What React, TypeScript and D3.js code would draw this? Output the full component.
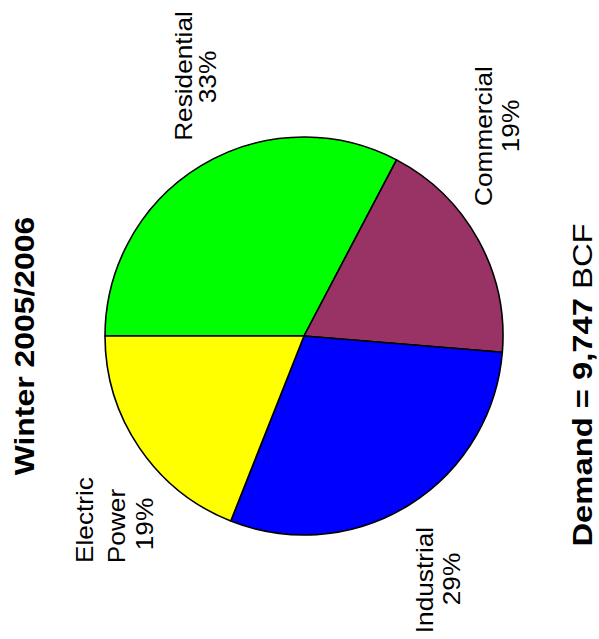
import React from "react";
import * as d3 from "d3";

const categories = ["Residential", "Commercial", "Industrial", "Electric Power"];
const shares = [32.7, 18.6, 29.7, 19.0];
const pctLabels = ["33%", "19%", "29%", "19%"];
const colors = ["#00FF00", "#993366", "#0000FF", "#FFFF00"];
const title = "Winter 2005/2006";
const demandLabel = "Demand = 9,747";
const demandUnit = "BCF";

// label layout (screen coords, rotated text): per-line baseline x and center y
const labelLayout: Record<string, { x: number; y: number }[]> = {
  Residential: [
    { x: 192, y: 76 },
    { x: 216, y: 77 },
  ],
  Commercial: [
    { x: 492, y: 136 },
    { x: 519, y: 126 },
  ],
  Industrial: [
    { x: 433, y: 580 },
    { x: 460, y: 579 },
  ],
  "Electric Power": [
    { x: 93, y: 520 },
    { x: 125, y: 526 },
    { x: 153, y: 524 },
  ],
};

const W = 599;
const H = 639;
const cx = 304;
const cy = 336;
const R = 199;
const FONT = "Liberation Sans, Arial, sans-serif";

function RotText({ x, y, text, size, weight, stretch }: { x: number; y: number; text: string; size: number; weight?: string; stretch: number }) {
  return (
    <text
      transform={`translate(${x},${y}) rotate(-90) scale(${stretch},1)`}
      textAnchor="middle"
      fontFamily={FONT}
      fontSize={size}
      fontWeight={weight || "normal"}
      fill="#000"
    >
      {text}
    </text>
  );
}

export default function App() {
  const pie = d3
    .pie<number>()
    .sort(null)
    .value((d) => d)
    .startAngle(-Math.PI / 2)
    .endAngle((3 * Math.PI) / 2);
  const arcs = pie(shares);
  const arc = d3.arc<d3.PieArcDatum<number>>().innerRadius(0).outerRadius(R);

  return (
    <svg
      width={W}
      height={H}
      style={{ position: "absolute", left: 0, top: 0, background: "#fff" }}
    >
      <rect width={W} height={H} fill="#fff" />
      <g transform={`translate(${cx},${cy})`}>
        {arcs.map((a, i) => (
          <path key={i} d={arc(a) || ""} fill={colors[i]} stroke="#000" strokeWidth={1.6} strokeLinejoin="round" />
        ))}
      </g>
      <RotText x={34} y={346} text={title} size={28} weight="bold" stretch={1.14} />
      <text
        transform={`translate(592,385) rotate(-90) scale(1.17,1)`}
        textAnchor="middle"
        fontFamily={FONT}
        fontSize={28}
        fill="#000"
      >
        <tspan fontWeight="bold">{demandLabel}</tspan>
        <tspan> {demandUnit}</tspan>
      </text>
      {categories.map((c, i) => {
        const lines = c === "Electric Power" ? ["Electric", "Power", pctLabels[i]] : [c, pctLabels[i]];
        const pos = labelLayout[c];
        return (
          <g key={c}>
            {lines.map((t, j) => (
              <RotText key={j} x={pos[j].x} y={pos[j].y} text={t} size={23} stretch={1.14} />
            ))}
          </g>
        );
      })}
    </svg>
  );
}
